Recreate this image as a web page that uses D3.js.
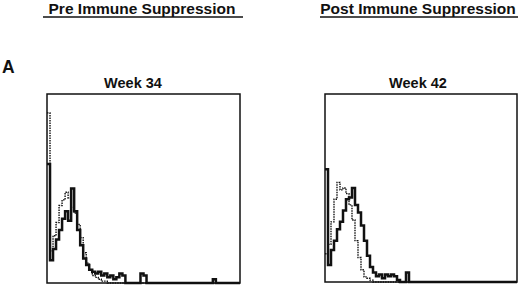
<!DOCTYPE html>
<html>
<head>
<meta charset="utf-8">
<script src="https://cdn.jsdelivr.net/npm/d3@7"></script>
<style>
  body { margin: 0; background: #fff; }
  text { font-family: "Liberation Sans", Arial, sans-serif; font-weight: bold; fill: #111; }
</style>
</head>
<body>
<svg id="chart" width="520" height="285"></svg>
<script>
// ### DATA (histogram counts, bins of 4 channels, 64 bins = 256 channels)
var binWidth = 4;
var headings = ["Pre Immune Suppression", "Post Immune Suppression"];
var panelTitles = ["Week 34", "Week 42"];
var panelLabel = "A";

// week 34, solid trace
var week34Solid = [63, 12, 18, 23, 28, 34, 38, 33, 50, 38, 28, 20, 13, 9.5, 7, 6,
  5, 6, 4, 5, 3, 4, 2, 3, 5, 4, 0, 0, 0, 0, 0, 5,
  4, 0, 0, 0, 0, 0, 0, 0, 0, 0, 0, 0, 0, 0, 0, 0,
  0, 0, 0, 0, 0, 0, 0, 2, 0, 0, 0, 0, 0, 0, 0, 0];
// week 34, dotted trace
var week34Dotted = [90, 17, 25, 32, 41, 44, 48, 45, 40, 37, 31, 24, 16, 10.5, 7, 4,
  3, 2, 1, 1, 0, 0, 0, 0, 0, 0, 0, 0, 0, 0, 0, 0,
  0, 0, 0, 0, 0, 0, 0, 0, 0, 0, 0, 0, 0, 0, 0, 0,
  0, 0, 0, 0, 0, 0, 0, 0, 0, 0, 0, 0, 0, 0, 0, 0];
// week 42, solid trace
var week42Solid = [60, 9, 17, 22, 28, 32, 38, 44, 45, 50, 41, 37, 30, 22, 14, 8,
  5, 3, 4, 2, 4, 3, 4, 3, 1, 0, 0, 5, 0, 0, 0, 0,
  0, 0, 0, 0, 0, 0, 0, 0, 0, 0, 0, 0, 0, 0, 0, 0,
  0, 0, 0, 0, 0, 0, 0, 0, 0, 0, 0, 0, 0, 0, 0, 0];
// week 42, dotted trace
var week42Dotted = [15, 20, 32, 44, 53, 49, 50, 47, 41, 33, 22, 13, 6.5, 2.7, 2, 1,
  0, 0, 0, 0, 0, 0, 0, 0, 0, 0, 0, 0, 0, 0, 0, 0,
  0, 0, 0, 0, 0, 0, 0, 0, 0, 0, 0, 0, 0, 0, 0, 0,
  0, 0, 0, 0, 0, 0, 0, 0, 0, 0, 0, 0, 0, 0, 0, 0];

var svg = d3.select("#chart");

// panel layout (boxes)
var panels = [
  { left: 47, right: 240, top: 94, bottom: 283, solid: week34Solid, dotted: week34Dotted,
    heading: headings[0], headX: 142, lineX1: 43, lineX2: 243, title: panelTitles[0], titleX: 133 },
  { left: 325, right: 517, top: 94, bottom: 282, solid: week42Solid, dotted: week42Dotted,
    heading: headings[1], headX: 418, lineX1: 320, lineX2: 518, title: panelTitles[1], titleX: 418 }
];

svg.append("text")
  .attr("x", 2)
  .attr("y", 73)
  .style("font-size", "17.5px")
  .text(panelLabel);

function toPoints(counts) {
  var pts = counts.map(function(c, i) { return [i * binWidth, c]; });
  pts.push([counts.length * binWidth, counts[counts.length - 1]]);
  return pts;
}

panels.forEach(function(p) {
  // heading + underline
  svg.append("text")
    .attr("x", p.headX)
    .attr("y", 14)
    .attr("text-anchor", "middle")
    .style("font-size", "15.5px")
    .text(p.heading);
  svg.append("line")
    .attr("x1", p.lineX1).attr("x2", p.lineX2)
    .attr("y1", 17).attr("y2", 17)
    .attr("stroke", "#111").attr("stroke-width", 1.5);

  svg.append("text")
    .attr("x", p.titleX)
    .attr("y", 88)
    .attr("text-anchor", "middle")
    .style("font-size", "14.5px")
    .text(p.title);

  var x = d3.scaleLinear().domain([0, 256]).range([p.left, p.right]);
  var y = d3.scaleLinear().domain([0, 100]).range([p.bottom, p.top]);

  var line = d3.line()
    .x(function(d) { return x(d[0]); })
    .y(function(d) { return y(d[1]); })
    .curve(d3.curveStepAfter);

  svg.append("path")
    .attr("d", line(toPoints(p.dotted)))
    .attr("fill", "none")
    .attr("stroke", "#111")
    .attr("stroke-width", 1.4)
    .attr("stroke-dasharray", "1.5,1");

  svg.append("path")
    .attr("d", line(toPoints(p.solid)))
    .attr("fill", "none")
    .attr("stroke", "#111")
    .attr("stroke-width", 2.5);

  // frame
  svg.append("rect")
    .attr("x", p.left).attr("y", p.top)
    .attr("width", p.right - p.left)
    .attr("height", p.bottom - p.top)
    .attr("fill", "none")
    .attr("stroke", "#111")
    .attr("stroke-width", 1.5);
});
</script>
</body>
</html>
